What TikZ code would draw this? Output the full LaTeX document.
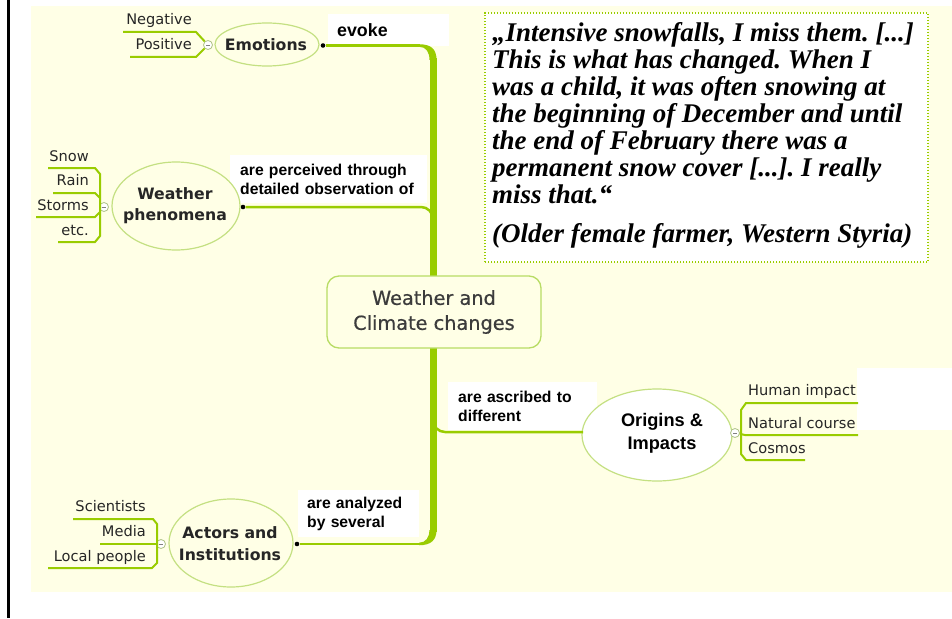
\documentclass[tikz,border=0pt]{standalone}
\usepackage{fontspec}
\setmainfont{DejaVu Sans}
\newfontfamily\labelfont{Liberation Sans}
\newfontfamily\quotefont{Liberation Serif}
\newfontfamily\hubfont[FakeBold=0.6]{DejaVu Sans}
\usetikzlibrary{shapes.geometric}

\definecolor{paper}{RGB}{255,255,230}
\definecolor{lime}{RGB}{153,204,0}
\definecolor{rim}{RGB}{196,224,130}
\definecolor{hubrim}{RGB}{184,220,100}
\definecolor{ink}{RGB}{38,38,38}
\definecolor{hubink}{RGB}{60,60,60}
\definecolor{knobrim}{RGB}{175,195,135}

\begin{document}
\begin{tikzpicture}[x=1pt,y=-1pt,
  branch/.style={draw=lime, line width=2.5pt},
  twig/.style={draw=lime, line width=2pt},
  topic/.style={ellipse, draw=rim, line width=1.2pt, fill=paper, inner sep=0pt},
  topictext/.style={inner sep=0pt, align=center, text=ink,
    font=\fontsize{15.7}{21}\selectfont\bfseries},
  leaf/.style={inner sep=0pt, text=ink, font=\fontsize{14.6}{17}\selectfont},
  tag/.style={fill=white, inner ysep=0pt, align=left, text=black,
    font=\labelfont\bfseries\fontsize{15.7}{18.5}\selectfont},
  knob/.style={circle, draw=knobrim, fill=white, line width=0.8pt,
    minimum size=9pt, inner sep=0pt,
    path picture={\draw[gray, line width=0.8pt]
      ([xshift=-1.8pt]path picture bounding box.center) --
      ([xshift=1.8pt]path picture bounding box.center);}},
  dot/.style={circle, fill=black, minimum size=4.6pt, inner sep=0pt},
  hub/.style={draw=hubrim, line width=1.3pt, fill=paper, rounded corners=12pt,
    minimum width=214pt, minimum height=72pt, align=center, text=hubink,
    font=\hubfont\fontsize{19.3}{25}\selectfont},
  quotebox/.style={draw=lime, line width=1.2pt, dash pattern=on 1.2pt off 1.8pt,
    fill=white, minimum width=443pt, minimum height=249pt},
  quotetext/.style={inner sep=0pt, align=left, text=black,
    font=\quotefont\bfseries\itshape\fontsize{27}{27}\selectfont\frenchspacing}
]
\useasboundingbox (0,0) rectangle (952,618);

% page background and left rule
\fill[paper] (31,6) rectangle (952,592);
\draw[black, line width=2.5pt] (8.5,0) -- (8.5,618);

% quotation
\node[quotebox] (qframe) at (706.5,137.5) {};
\node[quotetext, anchor=north west] (qtext) at (492,22) {%
„Intensive snowfalls, I miss them. [...]\\
This is what has changed. When I\\
was a child, it was often snowing at\\
the beginning of December and until\\
the end of February there was a\\
permanent snow cover [...]. I really\\
miss that.“\\[12pt]
(Older female farmer, Western Styria)};

% white patch at the right
\fill[white] (857,368) rectangle (952,430);

% link labels
\node[tag, anchor=north west, text width=103pt, inner xsep=9pt, minimum height=32pt,
  font=\labelfont\bfseries\fontsize{17.8}{20}\selectfont] (tevoke) at (328,14) {evoke};
\node[tag, anchor=north west, text width=177pt, inner xsep=10pt, minimum height=48pt]
  (tperc) at (230,155) {are perceived through\\detailed observation of};
\node[tag, anchor=north west, text width=129pt, inner xsep=10pt, minimum height=48pt]
  (tascr) at (448,382) {are ascribed to\\different};
\node[tag, anchor=north west, text width=103pt, inner xsep=9pt, minimum height=47pt]
  (tanal) at (298,490) {are analyzed\\by several};

% end points of the links
\node[dot] (demo) at (323,45.5) {};
\node[dot] (dwea) at (243,207) {};
\node[dot] (dact) at (297,544) {};
\coordinate (tr2) at (433,207);
\coordinate (tr3) at (433,432);

% trunk
\draw[lime, line width=7pt] (433,58) -- (433,532);
\fill[lime] (419,44.25) .. controls (431,44.25) and (436.5,49) .. (436.5,60)
  -- (429.5,60) .. controls (429.5,52) and (426,46.75) .. (419,46.75) -- cycle;
\fill[lime] (419,545.25) .. controls (431,545.25) and (436.5,540) .. (436.5,530)
  -- (429.5,530) .. controls (429.5,537) and (426,542.75) .. (419,542.75) -- cycle;

% links
\draw[branch] (demo) -- (420,45.5);
\draw[branch, rounded corners=12pt] (dwea) -- (tr2) -- (433,230);
\draw[branch] (dact) -- (420,544);

% topics
\node[topic, minimum width=104pt, minimum height=43pt] (emo) at (267,44.5) {};
\node[topictext] (emot) at (266,45) {Emotions};
\node[topic, minimum width=128pt, minimum height=88pt] (wea) at (176,206) {};
\node[topictext] (weat) at (175,205.5) {Weather\\phenomena};
\node[topic, minimum width=124pt, minimum height=88pt] (act) at (231,543) {};
\node[topictext, font=\fontsize{15.7}{22}\selectfont\bfseries] (actt) at (230,544)
  {Actors and\\Institutions};
\node[topic, fill=white, minimum width=150pt, minimum height=92pt] (ori) at (657,435) {};
\node[topictext, text=black, font=\labelfont\bfseries\fontsize{18.2}{23}\selectfont]
  (orit) at (662,433.5) {Origins \&\\Impacts};
\draw[branch, rounded corners=12pt] (433,405) -- (tr3) -- (583,432);

% central topic
\node[hub] (hub) at (434,312) {Weather and\\Climate changes};

% emotions leaves
\node[knob] (kemo) at (208,45) {};
\draw[twig] (123,32) -- (196,32) -- (kemo);
\draw[twig] (130,57) -- (196,57) -- (kemo);
\node[leaf, anchor=mid east] (lneg) at (192,22) {Negative};
\node[leaf, anchor=mid east] (lpos) at (192,47) {Positive};

% weather leaves
\node[knob] (kwea) at (104,207) {};
\draw[twig] (48,168) -- (95,168) -- (100,174) -- (100,207) -- (kwea);
\draw[twig] (53,193) -- (95,193) -- (100,198);
\draw[twig] (36,217) -- (95,217) -- (100,212);
\draw[twig] (58,242) -- (95,242) -- (100,236) -- (100,207);
\node[leaf, anchor=mid east] (lsnow) at (89,159) {Snow};
\node[leaf, anchor=mid east] (lrain) at (89,183) {Rain};
\node[leaf, anchor=mid east] (lstorm) at (89,208) {Storms};
\node[leaf, anchor=mid east] (letc) at (89,233) {etc.};

% actors leaves
\node[knob] (kact) at (161,544) {};
\draw[twig] (73,519) -- (153,519) -- (157,524) -- (157,544) -- (kact);
\draw[twig] (100,544) -- (kact);
\draw[twig] (48,568) -- (152,568) -- (157,563) -- (157,544);
\node[leaf, anchor=mid east] (lsci) at (146,509) {Scientists};
\node[leaf, anchor=mid east] (lmed) at (146,534) {Media};
\node[leaf, anchor=mid east] (lloc) at (146,559) {Local people};

% origins leaves
\node[knob] (kori) at (735,433) {};
\draw[twig] (kori) -- (741,433) -- (741,410) -- (746,403) -- (858,403);
\draw[twig] (kori) -- (745,435) -- (858,435);
\draw[twig] (741,433) -- (741,454) -- (746,460) -- (805,460);
\node[leaf, anchor=mid west] (lhum) at (748,393) {Human impact};
\node[leaf, anchor=mid west] (lnat) at (748,426) {Natural course};
\node[leaf, anchor=mid west] (lcos) at (748,451) {Cosmos};
\end{tikzpicture}
\end{document}
